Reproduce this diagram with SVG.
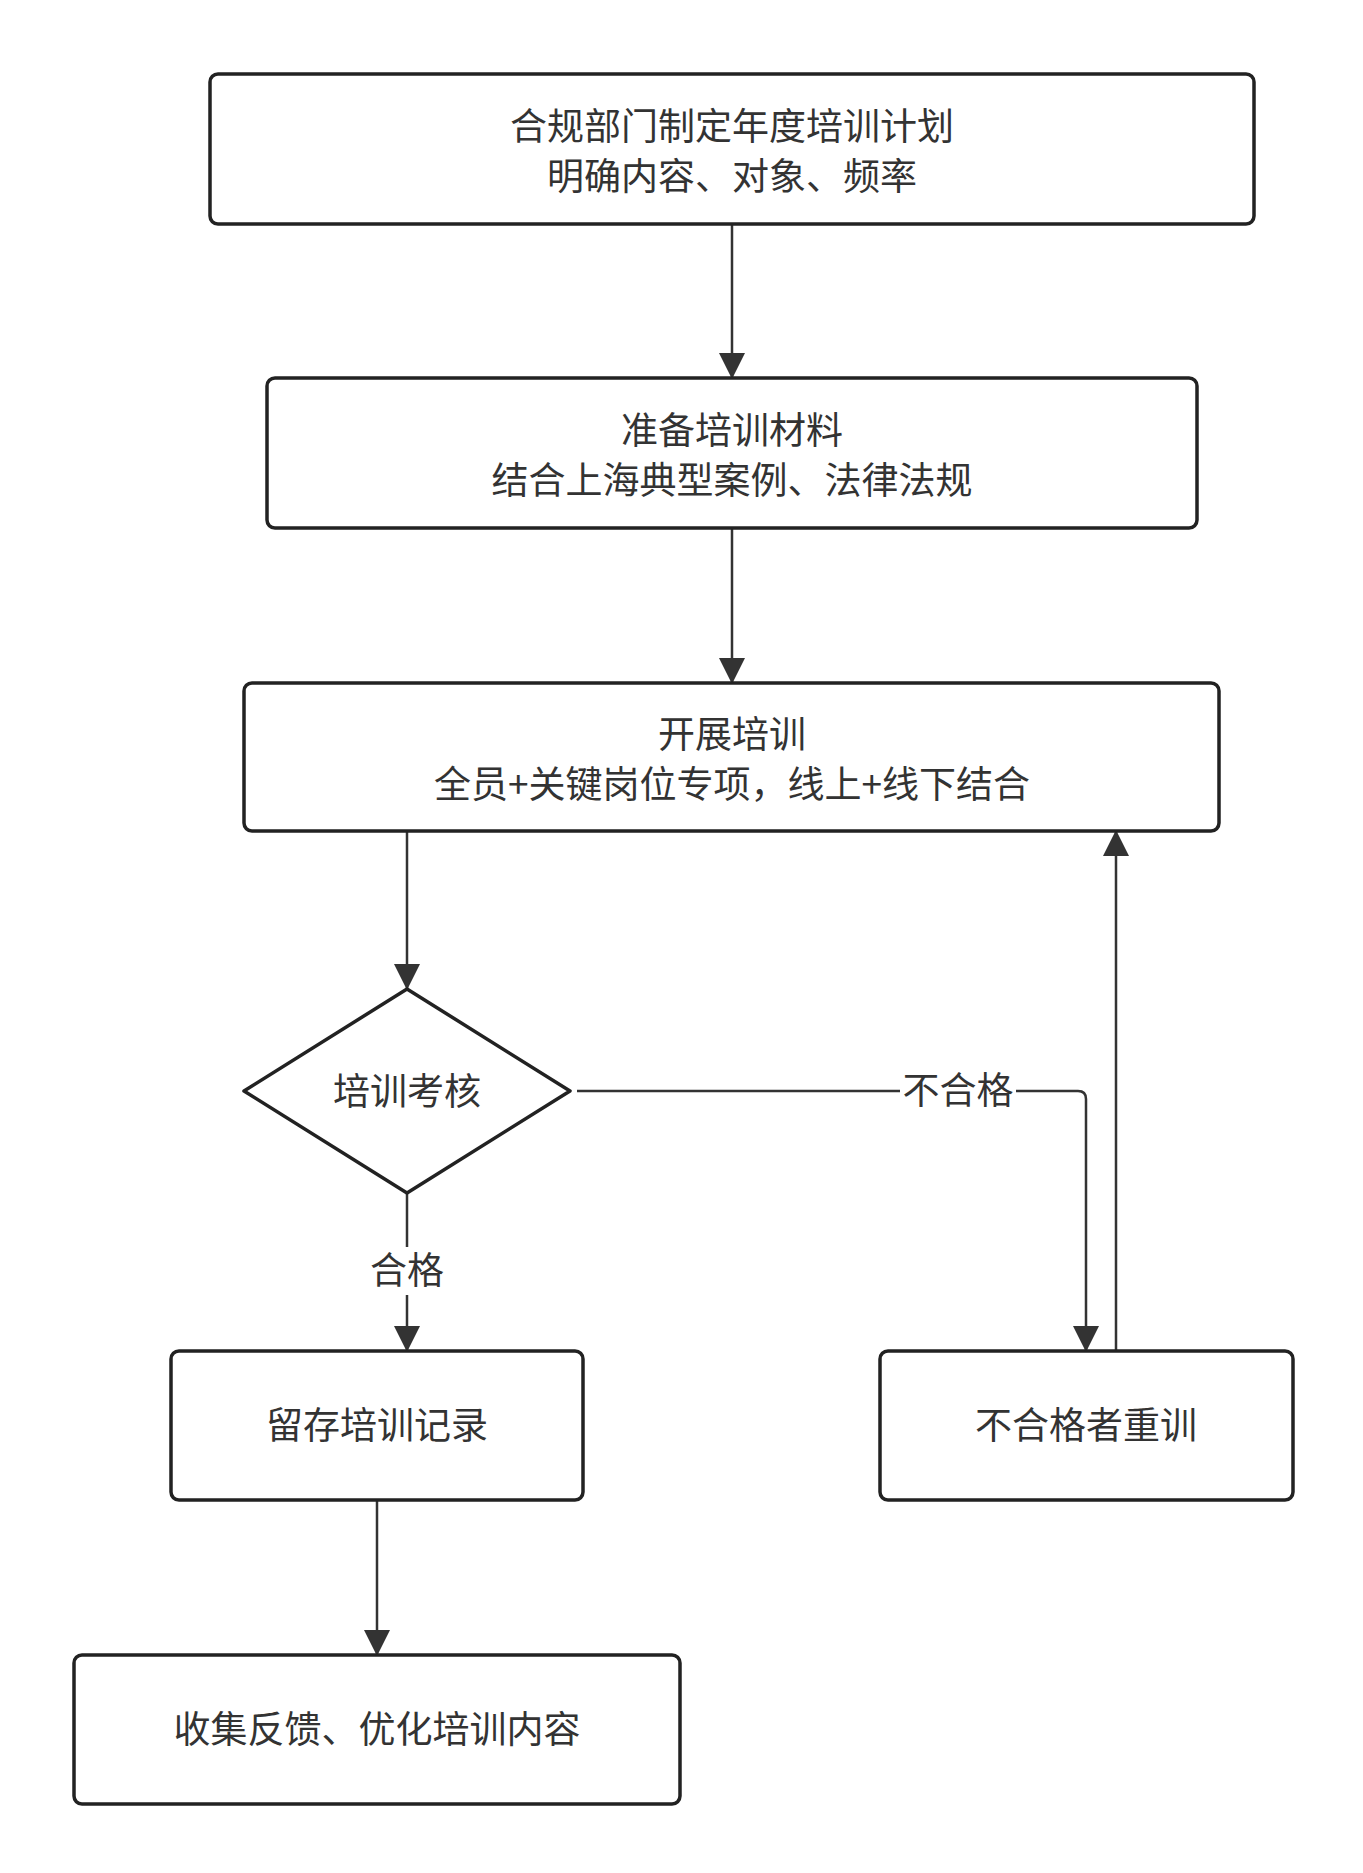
<svg xmlns="http://www.w3.org/2000/svg" width="1363" height="1873" viewBox="0 0 1363 1873">
<style>
.n{fill:#fff;stroke:#222;stroke-width:3.5}
.t{font-family:"Noto Sans CJK SC","Liberation Sans",sans-serif;font-size:37px;fill:#333;text-anchor:middle}
.c{fill:none;stroke:#333;stroke-width:2.5}
</style>
<defs><marker id="a" markerWidth="26" markerHeight="32" refX="25" refY="16" orient="auto" markerUnits="userSpaceOnUse"><path d="M0,3L26,16L0,29Z" fill="#333"/></marker></defs>
<rect width="1363" height="1873" fill="#fff"/>
<g id="connectors">
<path class="c" d="M732,224V378" marker-end="url(#a)"/>
<path class="c" d="M732,528V683" marker-end="url(#a)"/>
<path class="c" d="M407,831V989" marker-end="url(#a)"/>
<path class="c" d="M407,1193V1351" marker-end="url(#a)"/>
<path class="c" d="M377,1500V1655" marker-end="url(#a)"/>
<path class="c" d="M577,1091H1078Q1086,1091 1086,1099V1351" marker-end="url(#a)"/>
<path class="c" d="M1116,1351V831" marker-end="url(#a)"/>
<rect x="360" y="1247" width="94" height="48" fill="#fff"/>
<text class="t" x="407" y="1284">合格</text>
<rect x="900" y="1067" width="116" height="48" fill="#fff"/>
<text class="t" x="958" y="1104">不合格</text>
</g>
<g id="n1"><rect class="n" x="210" y="74" width="1044" height="150" rx="8"/><text class="t" x="732" y="140">合规部门制定年度培训计划</text><text class="t" x="732" y="190">明确内容、对象、频率</text></g>
<g id="n2"><rect class="n" x="267" y="378" width="930" height="150" rx="8"/><text class="t" x="732" y="444">准备培训材料</text><text class="t" x="732" y="494">结合上海典型案例、法律法规</text></g>
<g id="n3"><rect class="n" x="244" y="683" width="975" height="148" rx="8"/><text class="t" x="732" y="748">开展培训</text><text class="t" x="732" y="798">全员+关键岗位专项，线上+线下结合</text></g>
<g id="d"><path class="n" d="M407,989L570,1091L407,1193L244,1091Z" stroke-linejoin="round"/><text class="t" x="407" y="1105">培训考核</text></g>
<g id="n4"><rect class="n" x="171" y="1351" width="412" height="149" rx="8"/><text class="t" x="377" y="1439">留存培训记录</text></g>
<g id="n5"><rect class="n" x="880" y="1351" width="413" height="149" rx="8"/><text class="t" x="1086" y="1439">不合格者重训</text></g>
<g id="n6"><rect class="n" x="74" y="1655" width="606" height="149" rx="8"/><text class="t" x="377" y="1743">收集反馈、优化培训内容</text></g>
</svg>
